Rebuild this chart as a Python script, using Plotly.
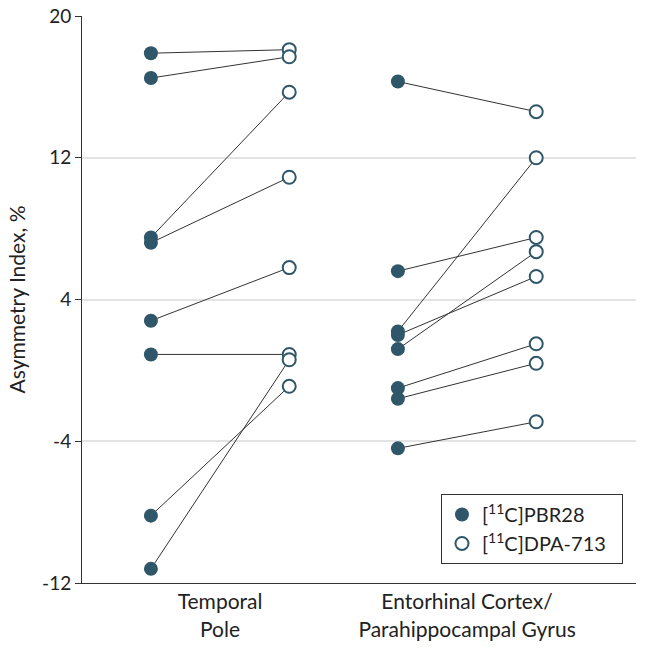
import plotly.graph_objects as go

categories = ["Temporal<br>Pole", "Entorhinal Cortex/<br>Parahippocampal Gyrus"]
series_names = ["[<sup>11</sup>C]PBR28", "[<sup>11</sup>C]DPA-713&#160;&#160;"]

temporal_pbr28 = [17.9, 16.5, 7.5, 7.2, 2.8, 0.9, -8.2, -11.2]
temporal_dpa713 = [18.1, 17.7, 15.7, 10.9, 5.8, 0.9, -0.9, 0.6]
entorhinal_pbr28 = [16.3, 5.6, 2.2, 2.0, 1.2, -1.0, -1.6, -4.4]
entorhinal_dpa713 = [14.6, 7.5, 12.0, 5.3, 6.7, 1.5, 0.4, -2.9]

y_ticks = [-12, -4, 4, 12, 20]

COLOR = "#2f5769"
OFFSET = 0.28
FONT = "Lato"

groups = [(temporal_pbr28, temporal_dpa713), (entorhinal_pbr28, entorhinal_dpa713)]

fig = go.Figure()

# connecting lines
for ci, (pbr, dpa) in enumerate(groups):
    for a, b in zip(pbr, dpa):
        fig.add_trace(go.Scatter(
            x=[ci - OFFSET, ci + OFFSET], y=[a, b], mode="lines",
            line=dict(color="#333333", width=1), showlegend=False, hoverinfo="skip"))

px, py = [], []
dx, dy = [], []
for ci, (pbr, dpa) in enumerate(groups):
    px += [ci - OFFSET] * len(pbr)
    py += pbr
    dx += [ci + OFFSET] * len(dpa)
    dy += dpa

fig.add_trace(go.Scatter(
    x=px, y=py, mode="markers", name=series_names[0],
    marker=dict(size=14, color=COLOR, line=dict(width=0))))
fig.add_trace(go.Scatter(
    x=dx, y=dy, mode="markers", name=series_names[1],
    marker=dict(size=13, color="white", line=dict(width=2, color=COLOR))))

fig.update_layout(
    width=645, height=651,
    margin=dict(l=82, r=9, t=16, b=68, autoexpand=False),
    plot_bgcolor="white", paper_bgcolor="white",
    font=dict(family=FONT, size=20, color="#222222"),
    xaxis=dict(
        range=[-0.559, 1.684], tickvals=[0, 1], ticktext=categories,
        showgrid=False, zeroline=False, showline=True, linecolor="#333333",
        linewidth=1, ticks="", tickfont=dict(size=21), automargin=False),
    yaxis=dict(
        range=[-12, 20], tickvals=y_ticks, ticktext=[str(v) for v in y_ticks],
        showgrid=True, gridcolor="#e3e3e3", gridwidth=1.5, zeroline=False,
        showline=True, linecolor="#333333", linewidth=1,
        ticks="outside", ticklen=6, tickcolor="#333333",
        ticklabeloverflow="allow", automargin=False,
        title=dict(text="Asymmetry Index, %", font=dict(size=21), standoff=10),
        tickfont=dict(size=19)),
    legend=dict(
        x=0.648, y=0.157, xanchor="left", yanchor="top",
        bordercolor="#333333", borderwidth=1, bgcolor="white",
        font=dict(size=20)),
)

fig.write_html(
    "out.html",
    config={"displayModeBar": False},
    post_script="document.body.style.margin='0';document.body.style.overflow='hidden';",
)
